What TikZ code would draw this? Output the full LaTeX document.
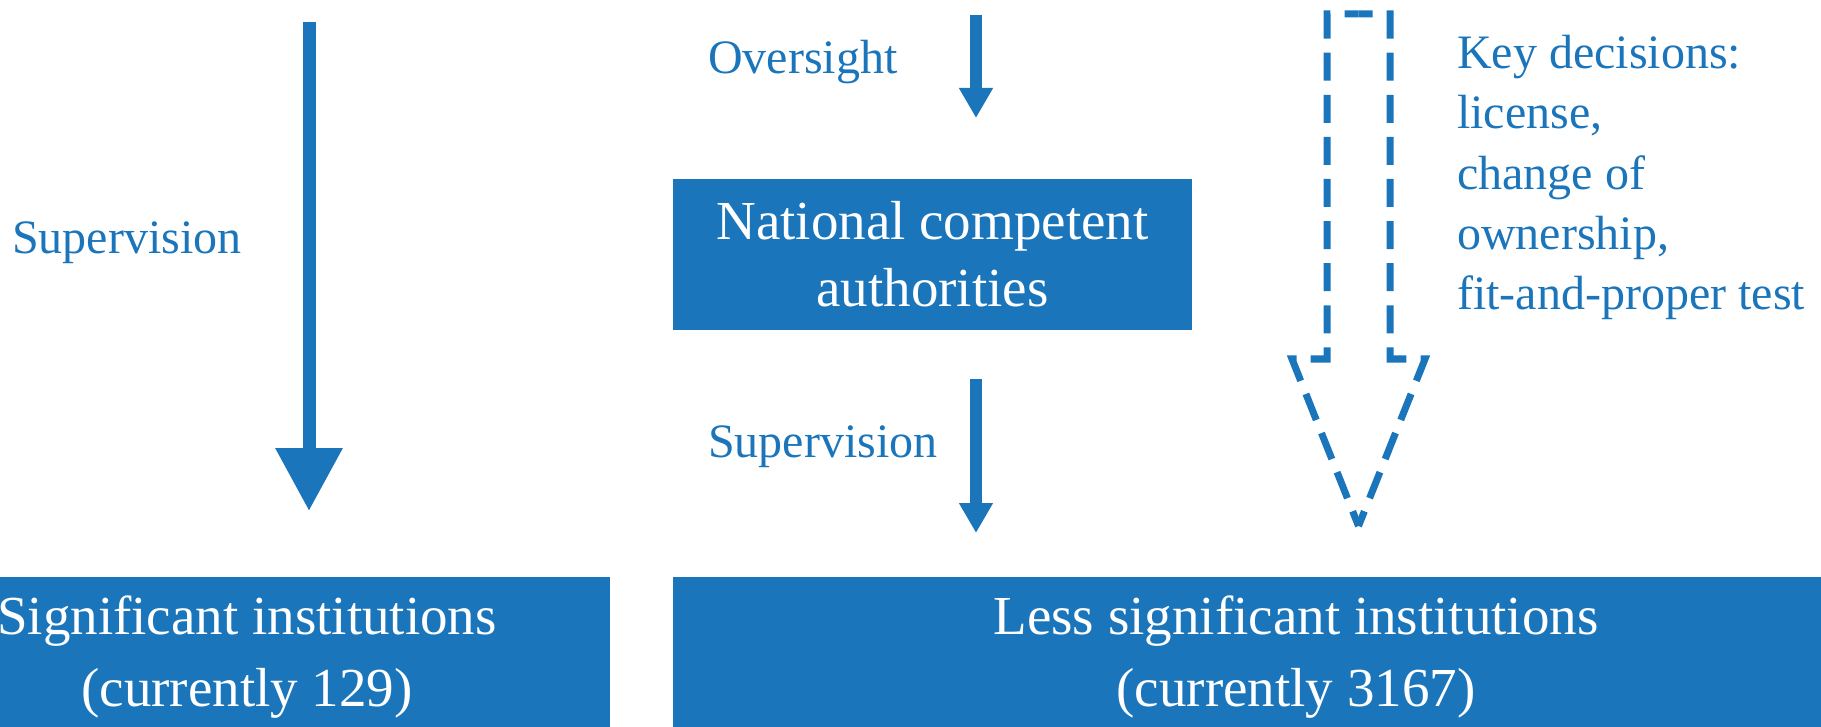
\documentclass[tikz,border=0pt]{standalone}
\usepackage{fontspec}
\setmainfont{Liberation Serif}
\usetikzlibrary{arrows.meta}
\definecolor{ecbblue}{RGB}{27,117,187}
\begin{document}
\begin{tikzpicture}[x=1pt,y=-1pt,
  lbl/.style={text=ecbblue, font=\fontsize{48}{60.3}\selectfont, inner sep=0pt, align=left},
  bluebox/.style={fill=ecbblue, draw=none, text=white, align=center, inner sep=0pt},
  boxfont/.style={font=\fontsize{55}{#1}\selectfont},
  bigarrow/.style={draw=ecbblue, line width=13pt, -{Triangle[width=64pt,length=63pt]}},
  smallarrow/.style={draw=ecbblue, line width=12.5pt, -{Triangle[width=32pt,length=30pt]}},
  dashedblock/.style={draw=ecbblue, line width=7pt, dash pattern=on 28pt off 14.1pt, dash phase=14pt, line join=miter},
]
\useasboundingbox (0,0) rectangle (1821,727);
\clip (0,0) rectangle (1821,727);

% boxes
\node[bluebox, boxfont=67, minimum width=519pt, minimum height=151pt] (nca) at (932.5,254.5) {National competent\\authorities};
\node[bluebox, boxfont=72, minimum width=726pt, minimum height=160pt] (si) at (247,657) {Significant institutions\\(currently 129)};
\node[bluebox, boxfont=72, minimum width=1246pt, minimum height=160pt] (lsi) at (1296,657) {Less significant institutions\\(currently 3167)};

% arrow end points
\coordinate (ltop) at (309,22);
\coordinate (ltip) at (309,511);
\coordinate (otop) at (976,15);
\coordinate (otip) at (976,118);
\coordinate (stop) at (976,379);
\coordinate (stip) at (976,533);

\draw[bigarrow] (ltop) -- (ltip);
\draw[smallarrow] (otop) -- (otip);
\draw[smallarrow] (stop) -- (stip);

% dashed block arrow (two symmetric halves from top middle to tip)
\coordinate (dtm) at (1358.5,14);
\coordinate (dtip) at (1358.5,526);
\draw[dashedblock] (dtm) -- (1390,14) -- (1390,359) -- (1425,359) -- (dtip);
\draw[dashedblock] (dtm) -- (1327,14) -- (1327,359) -- (1292,359) -- (dtip);

% labels
\node[lbl, anchor=base west] (supl) at (12,254) {Supervision};
\node[lbl, anchor=base west] (over) at (708,74) {Oversight};
\node[lbl, anchor=base west] (supm) at (708,457) {Supervision};
\node[lbl, anchor=north west] (key) at (1457,35) {Key decisions:\\license,\\change of\\ownership,\\fit-and-proper test};
\end{tikzpicture}
\end{document}
